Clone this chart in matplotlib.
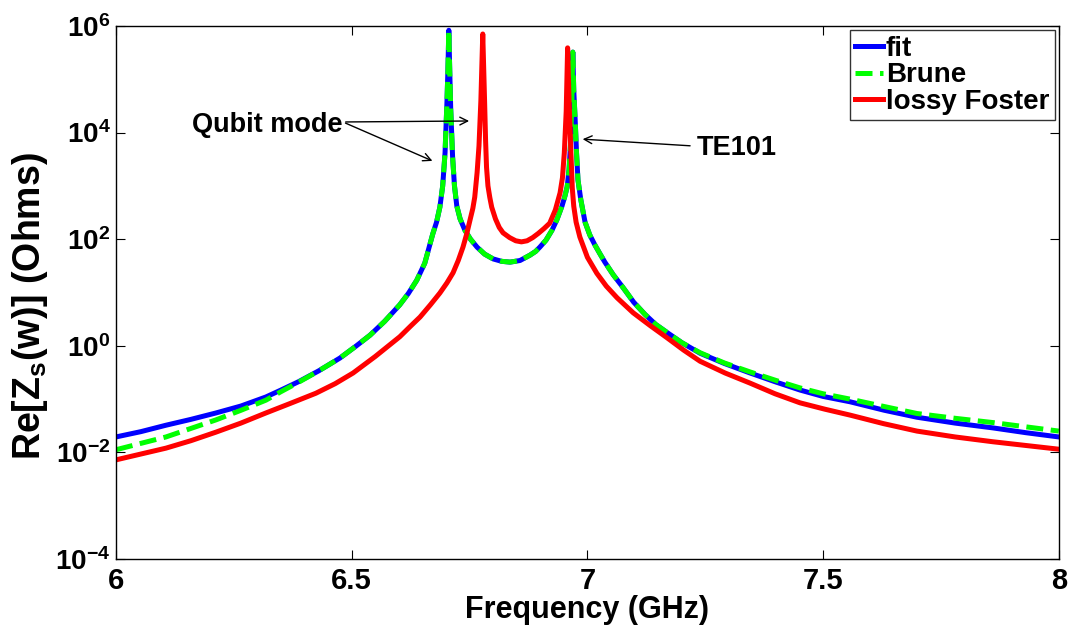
import numpy as np
import matplotlib
matplotlib.use('Agg')
import matplotlib.pyplot as plt

plt.rcParams['font.family'] = ['Liberation Sans', 'DejaVu Sans']
plt.rcParams['font.weight'] = 'bold'
plt.rcParams['mathtext.fontset'] = 'custom'
plt.rcParams['mathtext.bf'] = 'Liberation Sans:bold'
plt.rcParams['mathtext.rm'] = 'Liberation Sans:bold'
plt.rcParams['mathtext.it'] = 'Liberation Sans:bold:italic'

# frequency in GHz, log10 of Re[Zs] in Ohms
fit_freq = [6.000, 6.053, 6.106, 6.159, 6.212, 6.265, 6.318, 6.350, 6.388, 6.430,
            6.475, 6.510, 6.539, 6.570, 6.602, 6.620, 6.638, 6.655, 6.672, 6.680,
            6.687, 6.693, 6.698, 6.702, 6.704, 6.706, 6.708, 6.710, 6.714, 6.718,
            6.723, 6.730, 6.740, 6.752, 6.766, 6.782, 6.800, 6.818, 6.836, 6.857,
            6.878, 6.890, 6.899, 6.912, 6.925, 6.935, 6.946, 6.952, 6.957, 6.961,
            6.964, 6.967, 6.969, 6.971, 6.974, 6.977, 6.980, 6.986, 6.995, 7.005,
            7.016, 7.027, 7.037, 7.055, 7.075, 7.098, 7.122, 7.145, 7.169, 7.200,
            7.239, 7.290, 7.345, 7.400, 7.451, 7.500, 7.557, 7.630, 7.699, 7.780,
            7.860, 7.930, 8.000]
fit_log = [-1.71, -1.61, -1.49, -1.38, -1.26, -1.13, -0.96, -0.83, -0.67, -0.47,
           -0.23, 0.00, 0.20, 0.46, 0.77, 0.98, 1.23, 1.55, 2.10, 2.32,
           2.60, 3.00, 3.62, 4.56, 5.15, 5.92, 5.15, 4.45, 3.55, 3.00,
           2.62, 2.38, 2.17, 2.00, 1.85, 1.72, 1.63, 1.585, 1.57, 1.60,
           1.70, 1.77, 1.85, 1.98, 2.17, 2.36, 2.62, 2.80, 2.98, 3.30,
           3.75, 4.56, 5.51, 4.80, 4.24, 3.60, 3.11, 2.74, 2.32, 2.08,
           1.89, 1.72, 1.57, 1.33, 1.10, 0.82, 0.59, 0.40, 0.25, 0.06,
           -0.14, -0.33, -0.51, -0.68, -0.83, -0.95, -1.05, -1.21, -1.34, -1.45,
           -1.54, -1.63, -1.71]

brune_freq = fit_freq
brune_log = [-1.95, -1.83, -1.71, -1.55, -1.39, -1.21, -1.02, -0.86, -0.68, -0.47,
             -0.23, 0.00, 0.20, 0.46, 0.77, 0.98, 1.23, 1.55, 2.10, 2.32,
             2.60, 3.00, 3.62, 4.56, 5.15, 5.92, 5.15, 4.45, 3.55, 3.00,
             2.62, 2.38, 2.17, 2.00, 1.85, 1.72, 1.63, 1.585, 1.57, 1.60,
             1.70, 1.77, 1.85, 1.98, 2.17, 2.36, 2.62, 2.80, 2.98, 3.30,
             3.75, 4.56, 5.51, 4.80, 4.24, 3.60, 3.11, 2.74, 2.32, 2.08,
             1.89, 1.72, 1.57, 1.33, 1.10, 0.82, 0.59, 0.40, 0.25, 0.06,
             -0.13, -0.32, -0.49, -0.65, -0.79, -0.90, -1.00, -1.14, -1.27, -1.36,
             -1.44, -1.52, -1.60]

foster_freq = [6.000, 6.053, 6.106, 6.159, 6.212, 6.265, 6.318, 6.370, 6.424, 6.465,
               6.503, 6.550, 6.602, 6.625, 6.645, 6.667, 6.687, 6.702, 6.715, 6.726,
               6.736, 6.744, 6.751, 6.757, 6.761, 6.766, 6.770, 6.774, 6.778, 6.782,
               6.784, 6.786, 6.789, 6.793, 6.797, 6.805, 6.813, 6.821, 6.835, 6.848,
               6.860, 6.872, 6.884, 6.896, 6.908, 6.920, 6.932, 6.942, 6.947, 6.951,
               6.955, 6.958, 6.961, 6.965, 6.968, 6.971, 6.976, 6.984, 7.000, 7.020,
               7.040, 7.063, 7.097, 7.133, 7.169, 7.204, 7.239, 7.292, 7.345, 7.398,
               7.451, 7.504, 7.557, 7.628, 7.699, 7.780, 7.860, 7.930, 8.000]
foster_log = [-2.14, -2.03, -1.92, -1.78, -1.62, -1.45, -1.26, -1.08, -0.89, -0.71,
              -0.51, -0.20, 0.17, 0.37, 0.54, 0.77, 0.99, 1.18, 1.37, 1.60,
              1.85, 2.10, 2.36, 2.58, 2.79, 3.25, 3.75, 4.60, 5.85, 4.55,
              3.85, 3.35, 3.00, 2.78, 2.60, 2.38, 2.22, 2.12, 2.03, 1.97,
              1.95, 1.97, 2.03, 2.11, 2.20, 2.30, 2.55, 2.87, 3.15, 3.62,
              4.40, 5.59, 4.60, 3.62, 2.95, 2.62, 2.32, 2.04, 1.66, 1.36,
              1.12, 0.90, 0.62, 0.38, 0.15, -0.08, -0.29, -0.51, -0.70, -0.90,
              -1.07, -1.19, -1.30, -1.46, -1.60, -1.71, -1.80, -1.87, -1.94]

xticks = [6, 6.5, 7, 7.5, 8]
xticklabels = ['6', '6.5', '7', '7.5', '8']
ydecades = [-4, -2, 0, 2, 4, 6]

fig = plt.figure(figsize=(10.69, 6.26), dpi=100)
ax = fig.add_axes([0.1085, 0.107, 0.882, 0.8515])

ax.plot(fit_freq, np.power(10.0, fit_log), color='#0000ff', lw=3.6, label='fit')
ax.plot(brune_freq, np.power(10.0, brune_log), color='#00ff00', lw=3.6,
        ls=(0, (3.4, 1.5)), label='Brune')
ax.plot(foster_freq, np.power(10.0, foster_log), color='#ff0000', lw=3.6,
        label='lossy Foster')

ax.set_yscale('log')
ax.set_xlim(6, 8)
ax.set_ylim(1e-4, 1e6)
ax.set_xticks(xticks)
ax.set_xticklabels(xticklabels)
ax.set_yticks([10.0 ** d for d in ydecades])
ax.set_yticklabels([r'$\mathbf{10^{%d}}$' % d for d in ydecades])
ax.yaxis.set_minor_locator(matplotlib.ticker.NullLocator())
ax.tick_params(which='both', direction='in', top=True, right=True,
               length=6.5, width=0.8, labelsize=21)
ax.tick_params(axis='x', pad=6)
ax.tick_params(axis='y', pad=4, labelsize=20)
for s in ax.spines.values():
    s.set_linewidth(1.0)

ax.set_xlabel('Frequency (GHz)', fontsize=22, fontweight='bold', labelpad=0)
ax.set_ylabel(r'Re[Z$_\mathbf{s}$(w)] (Ohms)', fontsize=27, fontweight='bold')
ax.yaxis.set_label_coords(-0.070, 0.475)

leg = ax.legend(loc='upper right', fontsize=20, frameon=True, fancybox=False,
                edgecolor='black', handlelength=1.0, handletextpad=0.1,
                labelspacing=0.02, borderpad=0.2, borderaxespad=0.15)
leg.get_frame().set_linewidth(1.0)

arrow = dict(arrowstyle='->', color='black', lw=1.0, mutation_scale=14)
ax.text(6.4814, 10 ** 4.14, 'Qubit mode', ha='right', va='center', fontsize=19.5,
        fontweight='bold')
ax.annotate('', xy=(6.755, 10 ** 4.218), xytext=(6.4814, 10 ** 4.199), arrowprops=arrow)
ax.annotate('', xy=(6.6766, 10 ** 3.448), xytext=(6.4814, 10 ** 4.199), arrowprops=arrow)
ax.text(7.232, 10 ** 3.711, 'TE101', ha='left', va='center', fontsize=19.5,
        fontweight='bold')
ax.annotate('', xy=(6.984, 10 ** 3.88), xytext=(7.2237, 10 ** 3.749), arrowprops=arrow)

fig.savefig('out.png', dpi=100)
